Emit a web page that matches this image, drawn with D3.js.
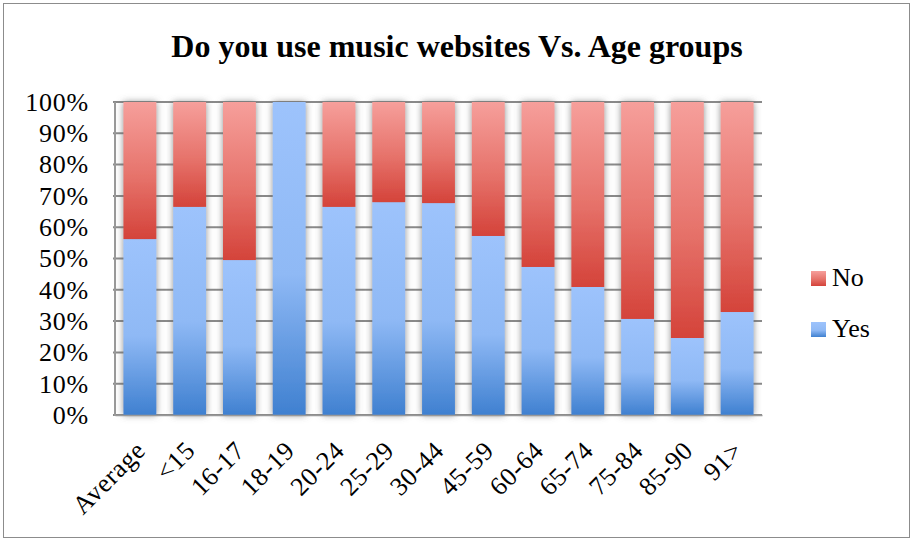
<!DOCTYPE html>
<html>
<head>
<meta charset="utf-8">
<script src="https://cdn.jsdelivr.net/npm/d3@7"></script>
<style>
  body { margin: 0; background: #fff; }
  text { font-family: "Liberation Serif", "DejaVu Serif", serif; }
</style>
</head>
<body>
<script>
  // data
  const categories = ["Average", "<15", "16-17", "18-19", "20-24", "25-29", "30-44",
    "45-59", "60-64", "65-74", "75-84", "85-90", "91>"];
  const yesValues = [56.2, 66.5, 49.5, 100, 66.5, 68, 67.7, 57.2, 47.3, 40.9, 30.7, 24.6, 32.9];
  const noValues = yesValues.map(v => 100 - v);
  const yTicks = [0, 10, 20, 30, 40, 50, 60, 70, 80, 90, 100];

  const W = 913, H = 541;
  const margin = { top: 102, right: 151, bottom: 126, left: 115 };
  const width = W - margin.left - margin.right;
  const height = H - margin.top - margin.bottom;

  const svg = d3.select("body").append("svg")
    .attr("width", W)
    .attr("height", H);

  // gradients + bar shadow
  const defs = svg.append("defs");
  const gBlue = defs.append("linearGradient").attr("id", "gBlue")
    .attr("x1", 0).attr("y1", 0).attr("x2", 0).attr("y2", 1);
  gBlue.append("stop").attr("offset", "0%").attr("stop-color", "#9dc3fc");
  gBlue.append("stop").attr("offset", "55%").attr("stop-color", "#8fb9f5");
  gBlue.append("stop").attr("offset", "100%").attr("stop-color", "#3f80d0");
  const gRed = defs.append("linearGradient").attr("id", "gRed")
    .attr("x1", 0).attr("y1", 0).attr("x2", 0).attr("y2", 1);
  gRed.append("stop").attr("offset", "0%").attr("stop-color", "#f69f9b");
  gRed.append("stop").attr("offset", "55%").attr("stop-color", "#e6726a");
  gRed.append("stop").attr("offset", "100%").attr("stop-color", "#d4433a");
  const shadow = defs.append("filter").attr("id", "shadow")
    .attr("x", "-30%").attr("y", "-5%").attr("width", "160%").attr("height", "110%");
  shadow.append("feDropShadow").attr("dx", 0).attr("dy", 0)
    .attr("stdDeviation", 3.5).attr("flood-color", "#666").attr("flood-opacity", 0.75);

  // outer border
  svg.append("rect")
    .attr("x", 3.5).attr("y", 3.5)
    .attr("width", W - 7).attr("height", H - 7)
    .attr("fill", "none").attr("stroke", "#8c8c8c").attr("stroke-width", 1);

  // title
  svg.append("text")
    .attr("x", 457).attr("y", 57)
    .attr("text-anchor", "middle")
    .attr("font-size", 32).attr("font-weight", "bold")
    .text("Do you use music websites Vs. Age groups");

  const g = svg.append("g")
    .attr("transform", "translate(" + margin.left + "," + margin.top + ")");

  const x = d3.scaleBand()
    .domain(categories)
    .range([0, width])
    .paddingInner(0.34)
    .paddingOuter(0.17);

  const y = d3.scaleLinear()
    .domain([0, 100])
    .range([height, 0]);

  // gridlines
  g.append("g")
    .selectAll("line")
    .data(yTicks)
    .join("line")
    .attr("x1", -2).attr("x2", width)
    .attr("y1", d => y(d)).attr("y2", d => y(d))
    .attr("stroke", "#8a8a8a").attr("stroke-width", 2);

  // left axis line
  g.append("line")
    .attr("x1", 0).attr("x2", 0)
    .attr("y1", 0).attr("y2", height + 1)
    .attr("stroke", "#999").attr("stroke-width", 2);

  // y labels
  const yAxis = g.append("g")
    .call(d3.axisLeft(y).tickValues(yTicks).tickFormat(d => d + "%").tickSize(0).tickPadding(26));
  yAxis.select(".domain").remove();
  yAxis.selectAll("text")
    .attr("font-family", "Liberation Serif, serif")
    .attr("font-size", 26)
    .attr("letter-spacing", 0.8)
    .attr("fill", "#000");

  // stacked bars
  const bars = g.append("g").selectAll("g")
    .data(categories)
    .join("g")
    .attr("filter", "url(#shadow)");

  bars.append("rect")
    .attr("x", d => x(d))
    .attr("width", x.bandwidth())
    .attr("y", (d, i) => y(yesValues[i]))
    .attr("height", (d, i) => y(0) - y(yesValues[i]))
    .attr("fill", "url(#gBlue)");

  bars.append("rect")
    .attr("x", d => x(d))
    .attr("width", x.bandwidth())
    .attr("y", (d, i) => y(100))
    .attr("height", (d, i) => y(0) - y(noValues[i]))
    .attr("fill", "url(#gRed)");

  // x labels
  const xAxis = g.append("g")
    .attr("transform", "translate(0," + height + ")")
    .call(d3.axisBottom(x).tickSize(0).tickPadding(0));
  xAxis.select(".domain")
    .attr("stroke", "#999").attr("stroke-width", 1.5);
  xAxis.selectAll("text")
    .attr("font-family", "Liberation Serif, serif")
    .attr("font-size", 26)
    .attr("letter-spacing", 0.6)
    .attr("fill", "#000")
    .attr("text-anchor", "end")
    .attr("dy", 0)
    .attr("transform", "translate(7,37) rotate(-45)");

  // legend
  const legendItems = [
    { label: "No", fill: "url(#gRed)", y: 271 },
    { label: "Yes", fill: "url(#gBlue)", y: 322 }
  ];
  const legend = svg.append("g").selectAll("g")
    .data(legendItems)
    .join("g")
    .attr("transform", d => "translate(811," + d.y + ")");
  legend.append("rect")
    .attr("width", 15).attr("height", 15)
    .attr("fill", d => d.fill);
  legend.append("text")
    .attr("x", 21).attr("y", 15)
    .attr("font-size", 26)
    .text(d => d.label);
</script>
</body>
</html>
